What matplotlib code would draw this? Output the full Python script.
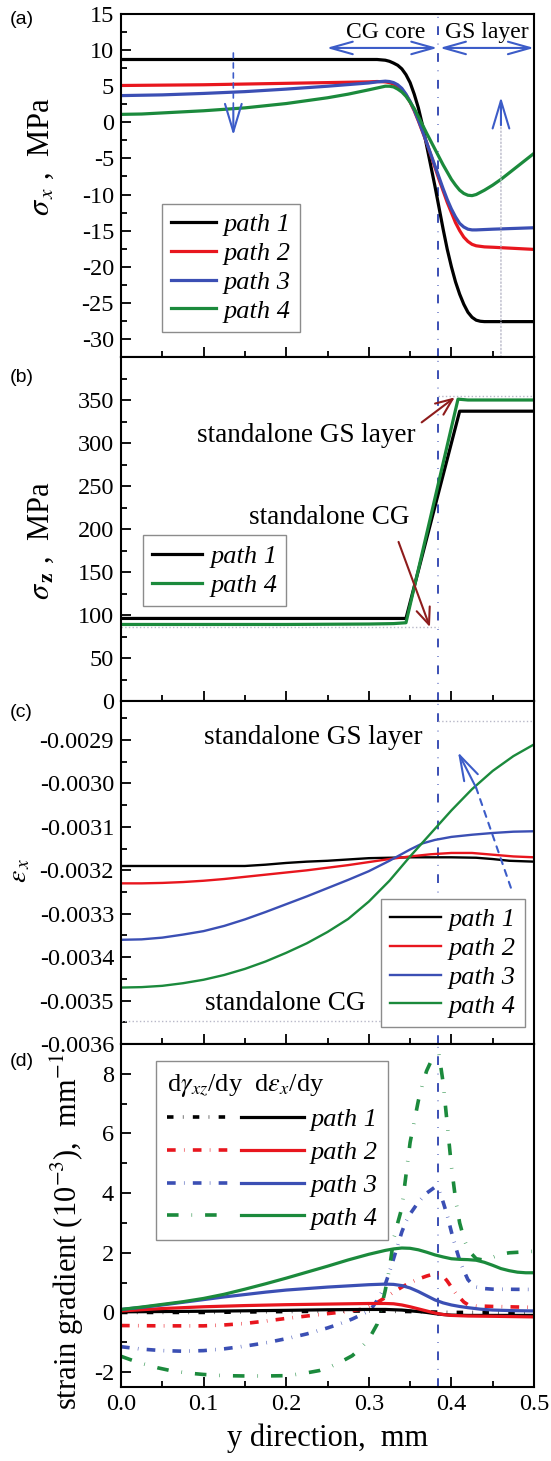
import matplotlib
matplotlib.use('Agg')
import matplotlib.pyplot as plt
from matplotlib.legend_handler import HandlerTuple
from matplotlib.ticker import MultipleLocator, FuncFormatter

plt.rcParams['font.family'] = ['Liberation Serif', 'DejaVu Serif']
plt.rcParams['mathtext.fontset'] = 'stix'
plt.rcParams['axes.unicode_minus'] = False

BLACK = '#000000'
RED = '#e8161e'
BLUE = '#3b4fb4'
GREEN = '#1b8a3c'
ARROW_BLUE = '#3c5cc8'
DARK_RED = '#8e1c1c'
GUIDE = '#b8b8c8'
COLORS = [BLACK, RED, BLUE, GREEN]
LABELS = ['path 1', 'path 2', 'path 3', 'path 4']

interface_y = 0.384

# (a) sigma_x, MPa
a_x1 = [0, 0.1, 0.2, 0.3, 0.31, 0.32, 0.325, 0.33, 0.335, 0.34, 0.345, 0.35, 0.355, 0.36, 0.365,
        0.37, 0.375, 0.38, 0.385, 0.39, 0.395, 0.40, 0.405, 0.41, 0.415, 0.42, 0.425, 0.43, 0.435, 0.44, 0.5]
a_y1 = [8.7, 8.7, 8.7, 8.7, 8.7, 8.6, 8.45, 8.2, 7.9, 7.4, 6.6, 5.5, 3.9, 2.0, -0.4,
        -3.2, -6.0, -8.8, -11.8, -14.8, -17.6, -20.0, -22.1, -23.8, -25.2, -26.3, -27.0, -27.4, -27.55, -27.6, -27.6]
a_x2 = [0, 0.1, 0.2, 0.3, 0.31, 0.32, 0.325, 0.33, 0.335, 0.34, 0.345, 0.35, 0.355, 0.36, 0.365, 0.37,
        0.375, 0.38, 0.385, 0.39, 0.395, 0.40, 0.405, 0.41, 0.415, 0.42, 0.425, 0.43, 0.44, 0.45, 0.5]
a_y2 = [5.1, 5.2, 5.4, 5.6, 5.65, 5.6, 5.5, 5.3, 5.0, 4.5, 3.8, 2.8, 1.6, 0.2, -1.3, -2.8,
        -4.5, -6.2, -7.9, -9.5, -11.1, -12.5, -13.9, -15.0, -15.9, -16.5, -16.9, -17.1, -17.25, -17.3, -17.6]
a_x3 = [0, 0.05, 0.1, 0.15, 0.2, 0.25, 0.3, 0.31, 0.32, 0.325, 0.33, 0.335, 0.34, 0.345, 0.35, 0.355, 0.36,
        0.365, 0.37, 0.375, 0.38, 0.385, 0.39, 0.395, 0.40, 0.405, 0.41, 0.415, 0.42, 0.425, 0.43, 0.45, 0.5]
a_y3 = [3.7, 3.8, 4.0, 4.25, 4.6, 5.0, 5.45, 5.6, 5.7, 5.65, 5.5, 5.2, 4.7, 3.9, 2.9, 1.7, 0.3,
        -1.2, -2.8, -4.4, -6.0, -7.6, -9.2, -10.7, -12.0, -13.1, -14.0, -14.5, -14.8, -14.9, -14.9, -14.8, -14.6]
a_x4 = [0, 0.025, 0.05, 0.075, 0.1, 0.125, 0.15, 0.175, 0.2, 0.225, 0.25, 0.275, 0.3, 0.31, 0.32, 0.325,
        0.33, 0.335, 0.34, 0.345, 0.35, 0.355, 0.36, 0.365, 0.37, 0.375, 0.38, 0.385, 0.39, 0.395, 0.40,
        0.405, 0.41, 0.415, 0.42, 0.425, 0.43, 0.44, 0.45, 0.46, 0.47, 0.48, 0.49, 0.5]
a_y4 = [1.1, 1.15, 1.3, 1.45, 1.6, 1.8, 2.0, 2.3, 2.6, 3.0, 3.4, 3.9, 4.5, 4.75, 5.0, 5.0,
        4.9, 4.6, 4.2, 3.6, 2.8, 1.9, 0.8, -0.35, -1.5, -2.6, -3.7, -4.8, -5.9, -6.9, -7.9,
        -8.7, -9.4, -9.85, -10.1, -10.15, -10.0, -9.4, -8.7, -7.9, -7.0, -6.1, -5.2, -4.3]

# (b) sigma_z, MPa
b_x1 = [0, 0.1, 0.2, 0.3, 0.345, 0.41, 0.42, 0.5]
b_y1 = [96, 96, 96, 96, 96, 337, 337, 337]
b_x4 = [0, 0.1, 0.2, 0.3, 0.33, 0.345, 0.408, 0.42, 0.5]
b_y4 = [89, 89, 89, 89.5, 90, 91, 351, 350, 350]
b_cg_alone = 86
b_gs_alone = 355

# (c) epsilon_x
c_x1 = [0, 0.1, 0.15, 0.175, 0.2, 0.225, 0.25, 0.275, 0.3, 0.35, 0.4, 0.43, 0.45, 0.47, 0.5]
c_y1 = [-0.00319, -0.00319, -0.00319, -0.003187, -0.003183, -0.00318, -0.003178, -0.003175, -0.003172,
        -0.00317, -0.00317, -0.003171, -0.003174, -0.003178, -0.00318]
c_x2 = [0, 0.025, 0.05, 0.075, 0.1, 0.125, 0.15, 0.175, 0.2, 0.225, 0.25, 0.275, 0.3, 0.325, 0.35,
        0.375, 0.4, 0.425, 0.45, 0.475, 0.5]
c_y2 = [-0.00323, -0.00323, -0.003229, -0.003227, -0.003224, -0.00322, -0.003215, -0.00321, -0.003205,
        -0.0032, -0.003194, -0.003188, -0.003181, -0.003174, -0.003168, -0.003163, -0.00316, -0.00316,
        -0.003164, -0.003168, -0.00317]
c_x3 = [0, 0.025, 0.05, 0.075, 0.1, 0.125, 0.15, 0.175, 0.2, 0.225, 0.25, 0.275, 0.3, 0.325, 0.35,
        0.365, 0.38, 0.4, 0.425, 0.45, 0.475, 0.5]
c_y3 = [-0.00336, -0.003359, -0.003355, -0.003348, -0.00334, -0.003328, -0.003313, -0.003296, -0.003278,
        -0.00326, -0.003241, -0.003222, -0.003202, -0.003178, -0.003152, -0.003138, -0.00313, -0.003123,
        -0.003118, -0.003114, -0.003111, -0.00311]
c_x4 = [0, 0.025, 0.05, 0.075, 0.1, 0.125, 0.15, 0.175, 0.2, 0.225, 0.25, 0.275, 0.3, 0.325, 0.35,
        0.375, 0.4, 0.425, 0.45, 0.475, 0.5]
c_y4 = [-0.00347, -0.003469, -0.003466, -0.00346, -0.003452, -0.003441, -0.003427, -0.00341, -0.00339,
        -0.003368, -0.003342, -0.003312, -0.003272, -0.003224, -0.003168, -0.003115, -0.003062, -0.003013,
        -0.002971, -0.002937, -0.00291]
c_cg_alone = -0.003546
c_gs_alone = -0.002856

# (d) strain gradient: d(gamma_xz)/dy dash-dot, d(eps_x)/dy solid
dg_x1 = [0, 0.1, 0.2, 0.3, 0.35, 0.4, 0.5]
dg_y1 = [0, 0, 0.03, 0.05, 0.03, 0, 0]
dg_x2 = [0, 0.05, 0.1, 0.125, 0.15, 0.175, 0.2, 0.225, 0.25, 0.27, 0.29, 0.3, 0.31, 0.32, 0.33, 0.34,
         0.35, 0.36, 0.37, 0.38, 0.385, 0.39, 0.395, 0.4, 0.405, 0.41, 0.415, 0.42, 0.43, 0.45, 0.5]
dg_y2 = [-0.44, -0.45, -0.45, -0.42, -0.37, -0.29, -0.2, -0.12, -0.04, 0.02, 0.1, 0.2, 0.33, 0.5, 0.68, 0.85,
         1.0, 1.12, 1.22, 1.3, 1.3, 1.22, 1.05, 0.85, 0.65, 0.5, 0.35, 0.26, 0.22, 0.2, 0.17]
dg_x3 = [0, 0.025, 0.05, 0.075, 0.1, 0.125, 0.15, 0.175, 0.2, 0.225, 0.25, 0.265, 0.28, 0.29, 0.3, 0.305,
         0.31, 0.315, 0.32, 0.325, 0.33, 0.335, 0.34, 0.345, 0.35, 0.355, 0.36, 0.365, 0.37, 0.375, 0.38,
         0.385, 0.39, 0.395, 0.4, 0.405, 0.41, 0.415, 0.42, 0.425, 0.43, 0.44, 0.45, 0.5]
dg_y3 = [-1.15, -1.23, -1.28, -1.3, -1.28, -1.22, -1.13, -1.02, -0.88, -0.72, -0.52, -0.38, -0.22, -0.09,
         0.05, 0.2, 0.4, 0.65, 0.95, 1.35, 1.8, 2.25, 2.7, 3.05, 3.3, 3.5, 3.7, 3.85, 4.0, 4.1, 4.2, 4.1,
         3.7, 3.25, 2.7, 2.2, 1.75, 1.4, 1.1, 0.95, 0.85, 0.8, 0.78, 0.77]
dg_x4 = [0, 0.015, 0.03, 0.045, 0.06, 0.08, 0.1, 0.125, 0.15, 0.175, 0.2, 0.22, 0.24, 0.255, 0.27, 0.28,
         0.29, 0.3, 0.305, 0.31, 0.315, 0.32, 0.325, 0.33, 0.335, 0.34, 0.345, 0.35, 0.355, 0.36, 0.365,
         0.37, 0.375, 0.38, 0.385, 0.39, 0.395, 0.4, 0.405, 0.41, 0.415, 0.42, 0.43, 0.44, 0.45, 0.46,
         0.47, 0.5]
dg_y4 = [-1.47, -1.62, -1.75, -1.86, -1.95, -2.03, -2.08, -2.12, -2.13, -2.13, -2.12, -2.05, -1.95, -1.8,
         -1.6, -1.45, -1.2, -0.9, -0.65, -0.4, 0.15, 0.75, 1.47, 2.45, 3.0, 3.5, 4.6, 5.7, 6.4, 7.1, 7.65,
         8.1, 8.4, 8.6, 8.65, 7.7, 6.3, 4.9, 3.8, 3.0, 2.5, 2.1, 1.8, 1.75, 1.85, 1.95, 2.0, 2.05]
de_x1 = [0, 0.1, 0.2, 0.25, 0.3, 0.32, 0.34, 0.36, 0.37, 0.38, 0.39, 0.4, 0.42, 0.45, 0.5]
de_y1 = [0.02, 0.04, 0.07, 0.09, 0.1, 0.1, 0.08, 0.03, 0.0, -0.04, -0.07, -0.09, -0.1, -0.1, -0.1]
de_x2 = [0, 0.025, 0.05, 0.075, 0.1, 0.15, 0.2, 0.25, 0.3, 0.32, 0.33, 0.34, 0.35, 0.36, 0.37, 0.38,
         0.39, 0.4, 0.42, 0.45, 0.5]
de_y2 = [0.05, 0.09, 0.13, 0.16, 0.19, 0.23, 0.26, 0.28, 0.3, 0.3, 0.29, 0.25, 0.19, 0.12, 0.05, -0.02,
         -0.07, -0.1, -0.12, -0.13, -0.15]
de_x3 = [0, 0.025, 0.05, 0.075, 0.1, 0.125, 0.15, 0.175, 0.2, 0.225, 0.25, 0.275, 0.3, 0.32, 0.33, 0.34,
         0.35, 0.36, 0.37, 0.38, 0.39, 0.4, 0.41, 0.42, 0.435, 0.45, 0.475, 0.5]
de_y3 = [0.1, 0.17, 0.25, 0.34, 0.43, 0.52, 0.6, 0.68, 0.75, 0.8, 0.85, 0.89, 0.93, 0.95, 0.94, 0.9,
         0.82, 0.7, 0.56, 0.42, 0.32, 0.25, 0.2, 0.16, 0.11, 0.08, 0.06, 0.05]
de_x4 = [0, 0.025, 0.05, 0.075, 0.1, 0.125, 0.15, 0.175, 0.2, 0.225, 0.25, 0.275, 0.3, 0.32, 0.33, 0.34,
         0.35, 0.36, 0.37, 0.38, 0.39, 0.4, 0.41, 0.42, 0.43, 0.44, 0.45, 0.46, 0.47, 0.48, 0.49, 0.5]
de_y4 = [0.1, 0.18, 0.27, 0.36, 0.47, 0.61, 0.78, 0.96, 1.15, 1.35, 1.55, 1.76, 1.95, 2.08, 2.13, 2.16,
         2.15, 2.1, 2.02, 1.93, 1.86, 1.8, 1.78, 1.77, 1.75, 1.68, 1.58, 1.47, 1.4, 1.35, 1.33, 1.33]

fig = plt.figure(figsize=(5.51, 14.61), dpi=100)
H = 1461.0
left, width = 121 / 551, 413 / 551
edges = [14, 357, 701, 1044, 1387]
axs = []
for i in range(4):
    t, b = edges[i], edges[i + 1]
    axs.append(fig.add_axes([left, 1 - b / H, width, (b - t) / H]))


def style(ax, labels=False):
    ax.set_xlim(0, 0.5)
    ax.xaxis.set_major_locator(MultipleLocator(0.1))
    ax.xaxis.set_minor_locator(MultipleLocator(0.05))
    ax.tick_params(which='both', direction='in', top=False, right=False,
                   labelsize=17.5, width=1.3, pad=5)
    ax.tick_params(which='major', length=7)
    ax.tick_params(which='minor', length=4)
    if not labels:
        ax.tick_params(axis='x', labelbottom=False)
    for s in ax.spines.values():
        s.set_linewidth(1.5)
    ax.axvline(interface_y, color=BLUE, lw=1.4, ls=(0, (4.5, 4.5, 0.3, 4.5)), zorder=1)


def leg_frame(leg):
    leg.get_frame().set_edgecolor('#8c8c8c')
    leg.get_frame().set_linewidth(1.0)


def arrow(ax, start, end, color, style, lw=1.5, ls='-'):
    ax.annotate('', xy=end, xytext=start,
                arrowprops=dict(arrowstyle=style, color=color, lw=lw, ls=ls,
                                shrinkA=0, shrinkB=0))


# ---- (a)
ax = axs[0]
style(ax)
for xs, ys, c, lab in zip([a_x1, a_x2, a_x3, a_x4], [a_y1, a_y2, a_y3, a_y4], COLORS, LABELS):
    ax.plot(xs, ys, color=c, lw=2.3, label=lab)
ax.set_ylim(-32.5, 15)
ax.yaxis.set_major_locator(MultipleLocator(5))
ax.yaxis.set_minor_locator(MultipleLocator(2.5))
ax.set_ylabel(r'$\sigma_{\,x}$ ,  MPa', fontsize=22)
ax.yaxis.set_label_coords(-0.157, 0.583)
leg = ax.legend(loc='lower left', bbox_to_anchor=(0.099, 0.073), borderaxespad=0,
                prop=dict(style='italic', size=19), handlelength=1.7, handletextpad=0.3,
                labelspacing=0.2, fancybox=False, framealpha=1, borderpad=0.35)
leg_frame(leg)
ax.text(0.321, 12.4, 'CG core', fontsize=17, ha='center', va='center')
ax.text(0.443, 12.4, 'GS layer', fontsize=17, ha='center', va='center')
arrow(ax, (0.383, 10.3), (0.249, 10.3), ARROW_BLUE, '<->,head_length=1.6,head_width=0.45')
arrow(ax, (0.386, 10.3), (0.5, 10.3), ARROW_BLUE, '<->,head_length=1.6,head_width=0.45')
arrow(ax, (0.136, 9.6), (0.136, 1.9), ARROW_BLUE, '-', lw=1.2, ls=(0, (3, 3)))
arrow(ax, (0.136, 2.0), (0.136, -1.8), ARROW_BLUE, '->,head_length=2.0,head_width=0.6')
arrow(ax, (0.46, -32.5), (0.46, -0.4), GUIDE, '-', lw=1.0, ls=':')
arrow(ax, (0.46, -0.4), (0.46, 3.5), ARROW_BLUE, '->,head_length=2.0,head_width=0.6')

# ---- (b)
ax = axs[1]
style(ax)
ax.hlines(b_cg_alone, 0, interface_y, colors=GUIDE, lw=1.0, ls=':')
ax.hlines(b_gs_alone, interface_y, 0.5, colors=GUIDE, lw=1.0, ls=':')
lb1, = ax.plot(b_x1, b_y1, color=BLACK, lw=2.3, label='path 1')
lb4, = ax.plot(b_x4, b_y4, color=GREEN, lw=2.3, label='path 4')
ax.set_ylim(0, 400)
ax.yaxis.set_major_locator(MultipleLocator(50))
ax.yaxis.set_minor_locator(MultipleLocator(25))
ax.yaxis.set_major_formatter(FuncFormatter(lambda v, p: '' if v > 375 else '%d' % v))
ax.set_ylabel(r'$\sigma_{\,\mathbf{z}}$ ,  MPa', fontsize=22)
ax.yaxis.set_label_coords(-0.157, 0.465)
leg = ax.legend(handles=[lb1, lb4], loc='lower left', bbox_to_anchor=(0.053, 0.276),
                borderaxespad=0, prop=dict(style='italic', size=19), handlelength=1.9,
                handletextpad=0.3, labelspacing=0.2, fancybox=False, framealpha=1,
                borderpad=0.35)
leg_frame(leg)
ax.text(0.224, 309, 'standalone GS layer', fontsize=19.5, ha='center', va='center')
ax.text(0.252, 213, 'standalone CG', fontsize=19.5, ha='center', va='center')
arrow(ax, (0.364, 324), (0.404, 353), DARK_RED, '->,head_length=1.2,head_width=0.5')
arrow(ax, (0.336, 185), (0.374, 86), DARK_RED, '->,head_length=1.2,head_width=0.5')

# ---- (c)
ax = axs[2]
style(ax)
ax.hlines(c_cg_alone, 0, interface_y, colors=GUIDE, lw=1.0, ls=':')
ax.hlines(c_gs_alone, interface_y, 0.5, colors=GUIDE, lw=1.0, ls=':')
for xs, ys, c, lab in zip([c_x1, c_x2, c_x3, c_x4], [c_y1, c_y2, c_y3, c_y4], COLORS, LABELS):
    ax.plot(xs, ys, color=c, lw=1.7, label=lab)
ax.set_ylim(-0.0036, -0.00281)
ax.yaxis.set_major_locator(MultipleLocator(0.0001))
ax.yaxis.set_minor_locator(MultipleLocator(0.00005))
ax.yaxis.set_major_formatter(FuncFormatter(lambda v, p: '%.4f' % v))
ax.set_ylabel(r'$\varepsilon_{\,x}$', fontsize=20)
ax.yaxis.set_label_coords(-0.215, 0.507)
leg = ax.legend(loc='lower left', bbox_to_anchor=(0.63, 0.05), borderaxespad=0,
                prop=dict(style='italic', size=19), handlelength=1.9, handletextpad=0.3,
                labelspacing=0.2, fancybox=False, framealpha=1, borderpad=0.35)
leg_frame(leg)
ax.text(0.233, -0.002893, 'standalone GS layer', fontsize=19.5, ha='center', va='center')
ax.text(0.199, -0.003507, 'standalone CG', fontsize=19.5, ha='center', va='center')
arrow(ax, (0.472, -0.00324), (0.43, -0.00301), ARROW_BLUE, '-', lw=1.5, ls=(0, (3, 3)))
arrow(ax, (0.43, -0.00301), (0.408, -0.002928), ARROW_BLUE, '->,head_length=1.8,head_width=0.55')

# ---- (d)
ax = axs[3]
style(ax, labels=True)
dd_styles = [(0, (1.8, 2.6, 0.15, 2.6)), (0, (2.4, 2.3, 0.15, 2.3)),
             (0, (2.4, 2.3, 0.15, 2.3)), (0, (3.2, 3.6, 0.15, 3.6))]
dd, so = [], []
for xs, ys, c, s in zip([dg_x1, dg_x2, dg_x3, dg_x4], [dg_y1, dg_y2, dg_y3, dg_y4], COLORS, dd_styles):
    l, = ax.plot(xs, ys, color=c, lw=2.6, ls=s)
    dd.append(l)
for xs, ys, c in zip([de_x1, de_x2, de_x3, de_x4], [de_y1, de_y2, de_y3, de_y4], COLORS):
    l, = ax.plot(xs, ys, color=c, lw=2.3)
    so.append(l)
ax.set_ylim(-2.5, 9)
ax.yaxis.set_major_locator(MultipleLocator(2))
ax.yaxis.set_minor_locator(MultipleLocator(1))
ax.set_ylabel(r'strain gradient (10$^{-3}$),  mm$^{-1}$', fontsize=22)
ax.yaxis.set_label_coords(-0.085, 0.452)
ax.set_xlabel('y direction,  mm', fontsize=22)
ax.xaxis.set_label_coords(0.5, -0.105)
ax.xaxis.label.set_va('top')
leg = ax.legend(handles=[(dd[i], so[i]) for i in range(4)], labels=LABELS,
                handler_map={tuple: HandlerTuple(ndivide=None, pad=0.45)},
                title=r'd$\gamma_{xz}$/dy  d$\varepsilon_x$/dy', title_fontsize=19,
                alignment='left', loc='upper left', bbox_to_anchor=(0.085, 0.95),
                borderaxespad=0, prop=dict(style='italic', size=19), handlelength=5.2,
                handletextpad=0.25, labelspacing=0.35, fancybox=False, framealpha=1,
                borderpad=0.4)
leg_frame(leg)

for lab, yc in zip(['(a)', '(b)', '(c)', '(d)'], [19, 377, 712, 1062]):
    fig.text(10 / 551, 1 - yc / H, lab, fontsize=14, family='Liberation Sans',
             ha='left', va='center')

fig.savefig('out.png', dpi=100)
